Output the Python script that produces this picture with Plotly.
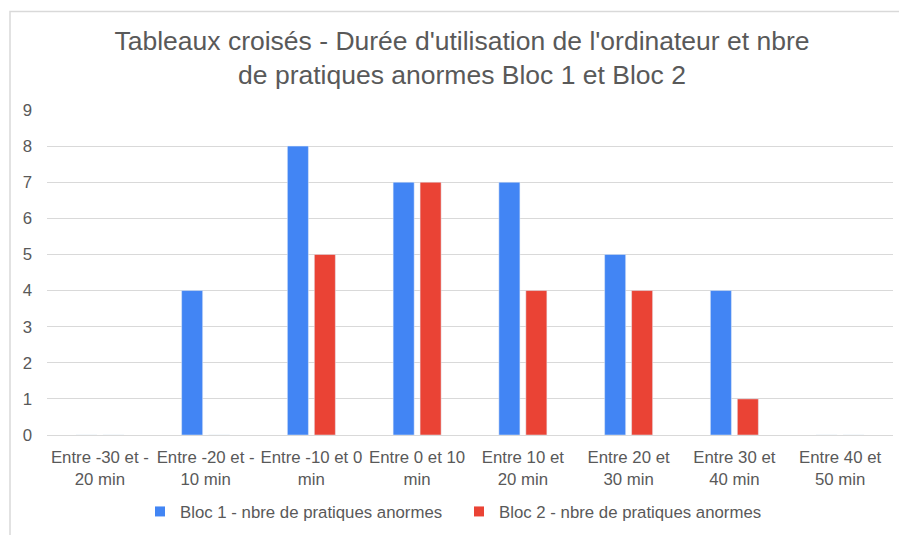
import plotly.graph_objects as go

categories = [
    "Entre -30 et -<br>20 min",
    "Entre -20 et -<br>10 min",
    "Entre -10 et 0<br>min",
    "Entre 0 et 10<br>min",
    "Entre 10 et<br>20 min",
    "Entre 20 et<br>30 min",
    "Entre 30 et<br>40 min",
    "Entre 40 et<br>50 min",
]
bloc1 = [0, 4, 8, 7, 7, 5, 4, 0]
bloc2 = [0, 0, 5, 7, 4, 4, 1, 0]
series_names = ["Bloc 1 - nbre de pratiques anormes", "Bloc 2 - nbre de pratiques anormes"]
series_colors = ["#4285F4", "#EA4335"]
y_ticks = list(range(0, 10))

W, H = 899, 535
L, R, T, B = 47, 6, 110, 98
pw, ph = W - L - R, H - T - B

def px_x(x):
    return (x - L) / pw

def px_y(y):
    return (H - B - y) / ph

font_fam = "Liberation Sans, Arial, sans-serif"
grey = "#595959"

fig = go.Figure()
for vals, name, col in zip([bloc1, bloc2], series_names, series_colors):
    fig.add_trace(go.Bar(x=categories, y=vals, name=name, marker_color=col,
                         showlegend=False))
# small square swatches, one legend box per series
legend_keys = ["legend", "legend2"]
for name, col, lg in zip(series_names, series_colors, legend_keys):
    fig.add_trace(go.Scatter(x=[None], y=[None], mode="markers", name=name,
                             legend=lg,
                             marker=dict(symbol="square", size=10, color=col)))

legend_common = dict(
    orientation="h", xanchor="left", yanchor="middle",
    y=px_y(514), font=dict(size=16.8, color=grey),
    itemwidth=30, bgcolor="rgba(0,0,0,0)",
)

fig.update_layout(
    width=W, height=H,
    margin=dict(l=L, r=R, t=T, b=B),
    paper_bgcolor="white", plot_bgcolor="white",
    font=dict(family=font_fam, color=grey, size=16.8),
    barmode="group", bargap=0.49, bargroupgap=0.22,
    title=dict(
        text="Tableaux croisés - Durée d'utilisation de l'ordinateur et nbre<br>de pratiques anormes Bloc 1 et Bloc 2",
        x=px_x(462), xref="paper", xanchor="center",
        y=1 - 50 / H, yanchor="middle",
        font=dict(size=26.5, color=grey, family=font_fam),
    ),
    legend=dict(x=px_x(140), **legend_common),
    legend2=dict(x=px_x(459), **legend_common),
    xaxis=dict(
        showgrid=False, showline=True, linecolor="#d9d9d9", linewidth=1,
        tickfont=dict(size=16.8, color=grey), ticks="", tickangle=0,
        ticklabelstandoff=7,
    ),
    yaxis=dict(
        range=[0, 9], tickvals=y_ticks, showgrid=True, gridcolor="#d9d9d9",
        gridwidth=1, zeroline=False, showline=False,
        tickfont=dict(size=16.8, color=grey), ticks="", ticklabelstandoff=14,
    ),
    shapes=[dict(
        type="rect", xref="paper", yref="paper",
        x0=px_x(10), x1=px_x(W + 20), y0=px_y(H + 20), y1=px_y(11),
        line=dict(color="#d9d9d9", width=1.5), fillcolor="rgba(0,0,0,0)",
        layer="below",
    )],
)

fig.write_html("out.html")
